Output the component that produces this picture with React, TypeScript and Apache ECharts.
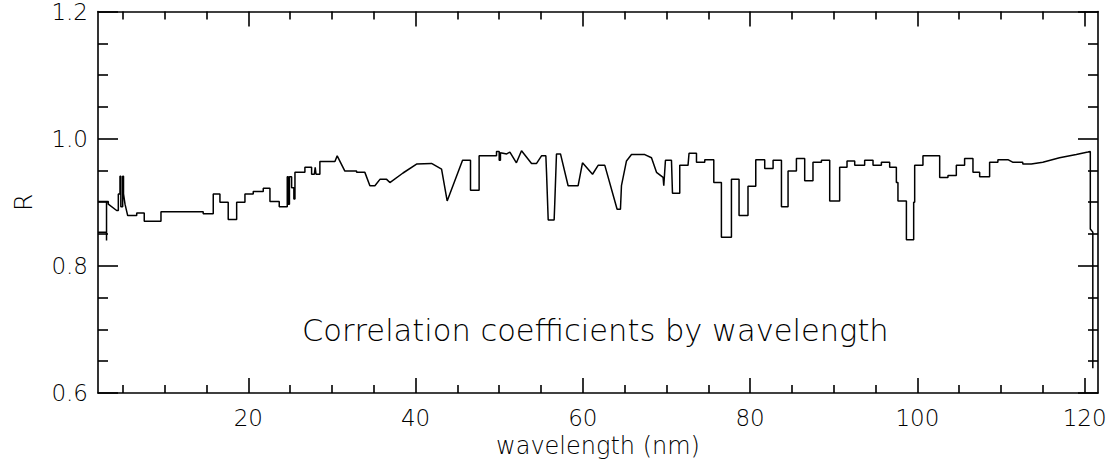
import React, { useEffect, useRef } from 'react';
import * as echarts from 'echarts';

// Wavelength (nm) of each vertex of the traced curve
const wavelength = [
  2.03, 3.05, 3.05, 3.05, 2.03, 3.26, 3.26, 4.26, 4.46, 4.46, 4.66, 4.66, 4.76, 4.76, 4.98, 4.98, 5.08, 5.08,
  5.26, 5.58, 6.66, 6.66, 7.56, 7.56, 9.56, 9.56, 14.61, 14.61, 15.81, 15.81, 16.61, 16.61, 17.6, 17.6, 18.61,
  18.61, 19.6, 19.6, 20.59, 20.59, 21.79, 21.79, 22.59, 22.59, 23.7, 23.7, 24.66, 24.66, 24.78, 24.78, 24.92,
  24.92, 25.18, 25.18, 25.45, 25.45, 25.58, 25.58, 26.77, 26.77, 27.57, 27.57, 27.9, 28.0, 28.1, 28.56, 28.56,
  30.36, 30.63, 31.55, 32.95, 32.95, 33.94, 34.54, 35.14, 35.74, 36.54, 36.93, 38.5, 40.12, 41.91, 43.11, 43.78,
  45.62, 46.57, 46.57, 47.6, 47.6, 49.68, 49.68, 50.0, 50.0, 50.15, 50.15, 50.9, 51.28, 52.06, 52.67, 53.87,
  54.47, 55.06, 55.58, 55.66, 55.86, 56.57, 56.65, 56.85, 57.33, 58.24, 59.44, 59.96, 61.16, 61.83, 62.63, 64.1,
  64.5, 64.62, 65.22, 65.82, 67.41, 68.21, 68.81, 69.6, 69.68, 69.88, 70.6, 70.72, 71.59, 71.59, 72.58, 72.7,
  73.59, 73.59, 74.58, 74.58, 75.66, 75.66, 76.57, 76.57, 77.77, 77.77, 78.68, 78.68, 79.75, 79.75, 80.68, 80.68,
  81.75, 81.75, 82.75, 82.75, 83.75, 83.75, 84.54, 84.54, 85.54, 85.54, 86.53, 86.53, 87.52, 87.52, 88.53, 88.53,
  89.52, 89.52, 90.71, 90.71, 91.59, 91.59, 92.51, 92.51, 93.7, 93.7, 94.7, 94.7, 95.7, 95.7, 96.69, 96.69, 97.49,
  97.49, 97.68, 97.68, 98.69, 98.69, 99.56, 99.56, 99.68, 99.68, 100.67, 100.67, 102.67, 102.67, 103.66, 103.66,
  104.66, 104.66, 105.65, 105.65, 106.65, 106.65, 107.45, 107.45, 108.64, 108.64, 109.63, 109.63, 110.83, 111.39,
  112.59, 112.62, 113.62, 115.0, 117.0, 119.0, 120.39, 120.68, 120.68, 120.98, 120.98,
];

// Correlation coefficient R at each vertex
const correlation = [
  0.853, 0.853, 0.84, 0.901, 0.901, 0.901, 0.897, 0.887, 0.887, 0.913, 0.913, 0.941, 0.941, 0.893, 0.893, 0.941, 0.941, 0.913,
  0.897, 0.879, 0.879, 0.883, 0.883, 0.87, 0.87, 0.885, 0.885, 0.882, 0.882, 0.913, 0.913, 0.9, 0.9, 0.873, 0.873,
  0.9, 0.9, 0.913, 0.913, 0.917, 0.917, 0.922, 0.922, 0.901, 0.901, 0.893, 0.893, 0.94, 0.94, 0.897, 0.897,
  0.94, 0.94, 0.923, 0.923, 0.905, 0.905, 0.947, 0.947, 0.955, 0.955, 0.944, 0.944, 0.955, 0.944, 0.944, 0.964,
  0.964, 0.973, 0.949, 0.949, 0.947, 0.947, 0.926, 0.926, 0.936, 0.936, 0.931, 0.946, 0.96, 0.961, 0.952, 0.902,
  0.966, 0.966, 0.919, 0.919, 0.973, 0.973, 0.98, 0.98, 0.966, 0.966, 0.978, 0.976, 0.979, 0.962, 0.981, 0.961,
  0.961, 0.973, 0.973, 0.947, 0.872, 0.872, 0.9, 0.976, 0.976, 0.926, 0.926, 0.962, 0.944, 0.958, 0.958, 0.889,
  0.889, 0.926, 0.965, 0.975, 0.975, 0.97, 0.947, 0.939, 0.926, 0.966, 0.966, 0.914, 0.914, 0.958, 0.958, 0.977,
  0.977, 0.963, 0.963, 0.967, 0.967, 0.931, 0.931, 0.845, 0.845, 0.936, 0.936, 0.879, 0.879, 0.925, 0.925, 0.967,
  0.967, 0.953, 0.953, 0.966, 0.966, 0.893, 0.893, 0.949, 0.949, 0.969, 0.969, 0.934, 0.934, 0.963, 0.963, 0.966,
  0.966, 0.902, 0.902, 0.955, 0.955, 0.965, 0.965, 0.958, 0.958, 0.966, 0.966, 0.958, 0.958, 0.963, 0.963, 0.955, 0.955,
  0.931, 0.931, 0.902, 0.902, 0.841, 0.841, 0.9, 0.9, 0.958, 0.958, 0.973, 0.973, 0.939, 0.939,
  0.942, 0.942, 0.958, 0.958, 0.969, 0.969, 0.947, 0.947, 0.94, 0.94, 0.963, 0.963, 0.967, 0.967, 0.963,
  0.963, 0.96, 0.96, 0.963, 0.97, 0.975, 0.979, 0.98, 0.858, 0.853, 0.639,
];

const xMajorTicks = [20, 40, 60, 80, 100, 120];
const xMinorTicks = [5, 10, 15, 25, 30, 35, 45, 50, 55, 65, 70, 75, 85, 90, 95, 105, 110, 115];
const yMajorTicks = [0.6, 0.8, 1.0, 1.2];
const yMinorTicks = [0.65, 0.7, 0.75, 0.85, 0.9, 0.95, 1.05, 1.1, 1.15];

const chartTitle = 'Correlation coefficients by wavelength';
const xName = 'wavelength (nm)';
const yName = 'R';

const FONT = 'DejaVu Sans';
const INK = '#000';

export default function App() {
  const ref = useRef<HTMLDivElement>(null);

  useEffect(() => {
    document.body.style.margin = '0';
    const chart = echarts.init(ref.current!, null, { renderer: 'svg' });

    const X_MIN = 2.03;
    const X_MAX = 121.6;
    const lineStyle = { color: INK, width: 1.6 };

    const xAxisBase = (position: 'top' | 'bottom', ticks: number[], len: number, showLine: boolean) => ({
      type: 'value',
      position,
      min: X_MIN,
      max: X_MAX,
      splitLine: { show: false },
      axisLine: { show: showLine, onZero: false, lineStyle },
      axisTick: { show: true, inside: true, length: len, customValues: ticks, lineStyle },
      axisLabel: { show: false },
    });
    const yAxisBase = (position: 'left' | 'right', ticks: number[], len: number, showLine: boolean) => ({
      type: 'value',
      position,
      min: 0.6,
      max: 1.2,
      splitLine: { show: false },
      axisLine: { show: showLine, onZero: false, lineStyle },
      axisTick: { show: true, inside: true, length: len, customValues: ticks, lineStyle },
      axisLabel: { show: false },
    });

    const option = {
      animation: false,
      backgroundColor: '#fff',
      grid: { left: 98, right: 17, top: 10, bottom: 75, containLabel: false },
      xAxis: [
        {
          ...xAxisBase('bottom', xMajorTicks, 15, true),
          name: xName,
          nameLocation: 'middle',
          nameGap: 33,
          nameTextStyle: { fontFamily: FONT, fontWeight: 200, fontSize: 24, color: INK },
          axisLabel: {
            show: true,
            customValues: xMajorTicks,
            margin: 13,
            fontFamily: FONT,
            fontWeight: 200,
            fontSize: 23,
            color: INK,
            formatter: (v: number) => String(v),
          },
        },
        xAxisBase('bottom', xMinorTicks, 8, false),
        xAxisBase('top', xMajorTicks, 15, true),
        xAxisBase('top', xMinorTicks, 8, false),
      ],
      yAxis: [
        {
          ...yAxisBase('left', yMajorTicks, 20, true),
          name: yName,
          nameLocation: 'middle',
          nameRotate: 90,
          nameGap: 62,
          nameTextStyle: { fontFamily: FONT, fontWeight: 200, fontSize: 25, color: INK },
          axisLabel: {
            show: true,
            customValues: yMajorTicks,
            margin: 10,
            fontFamily: FONT,
            fontWeight: 200,
            fontSize: 23,
            color: INK,
            formatter: (v: number) => v.toFixed(1),
          },
        },
        yAxisBase('left', yMinorTicks, 10, false),
        yAxisBase('right', yMajorTicks, 20, true),
        yAxisBase('right', yMinorTicks, 10, false),
      ],
      graphic: [
        {
          type: 'text',
          x: 302,
          y: 330,
          style: {
            text: chartTitle,
            fontFamily: FONT,
            fontWeight: 200,
            fontSize: 30.5,
            fill: INK,
            textAlign: 'left',
            textVerticalAlign: 'middle',
          },
        },
      ],
      series: [
        {
          type: 'line',
          xAxisIndex: 0,
          yAxisIndex: 0,
          data: wavelength.map((w, i) => [w, correlation[i]]),
          showSymbol: false,
          symbol: 'none',
          lineStyle: { color: INK, width: 1.5 },
          clip: true,
        },
      ],
    };

    chart.setOption(option as any);
    return () => chart.dispose();
  }, []);

  return <div ref={ref} style={{ width: 1115, height: 468 }} />;
}
